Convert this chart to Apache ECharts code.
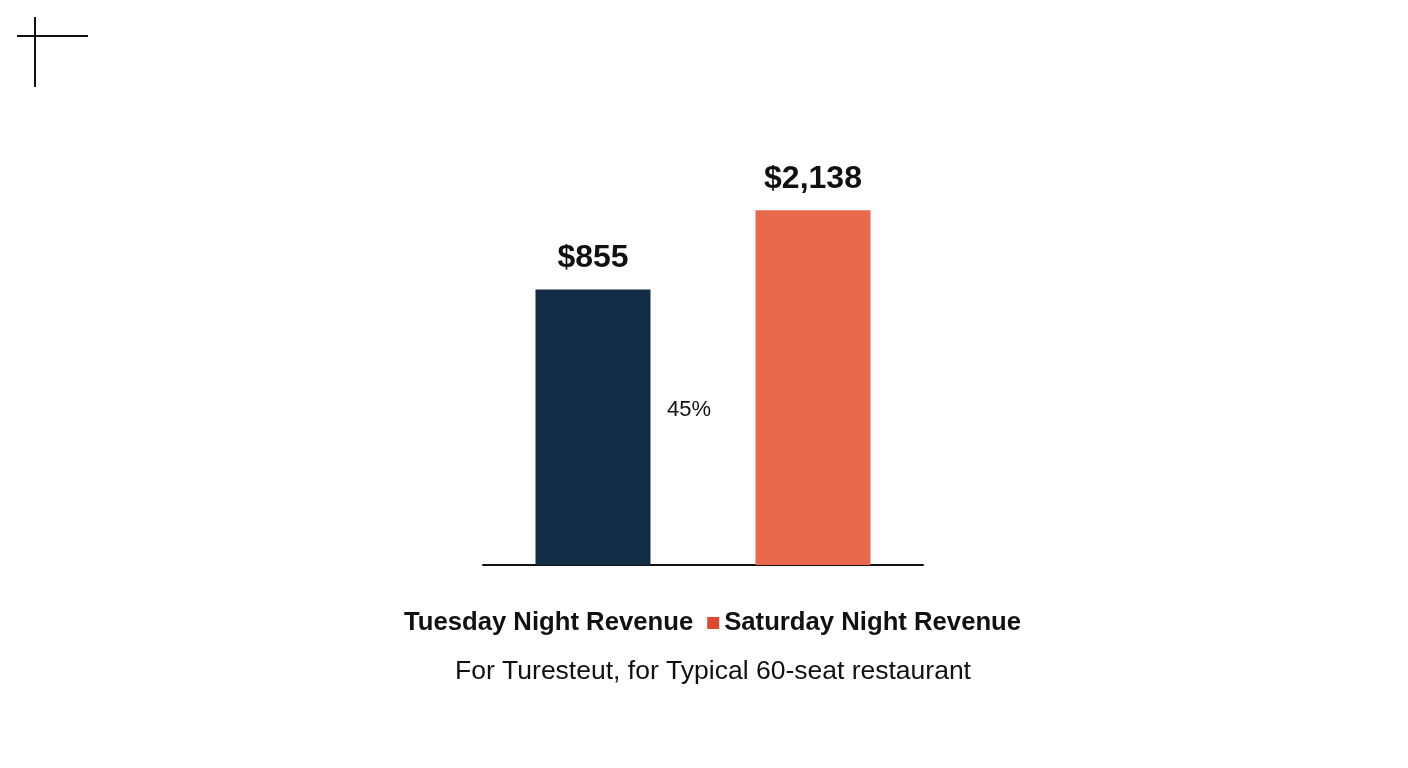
<!DOCTYPE html>
<html>
<head>
<meta charset="utf-8">
<script src="https://cdn.jsdelivr.net/npm/echarts@6/dist/echarts.min.js"></script>
<style>
  html, body { margin: 0; padding: 0; background: #ffffff; }
  #chart { width: 1408px; height: 768px; }
</style>
</head>
<body>
<div id="chart"></div>
<script>
// ---- data ----
const categories = ['Tuesday Night Revenue', 'Saturday Night Revenue'];
const values = [855, 2138];
const gapLabel = '45%';
const subtitle = 'For Turesteut, for Typical 60-seat restaurant';

// ---- styles ----
const barColors = ['#132d47', '#e8694b'];
const legendSquareColor = '#dc4a2d';
const textColor = '#111111';
const fontFamily = "'Liberation Sans', Arial, Helvetica, sans-serif";

const chart = echarts.init(document.getElementById('chart'), null, { renderer: 'canvas' });

const series = categories.map((name, i) => ({
  name: name,
  type: 'bar',
  barWidth: 115,
  barGap: '-100%',
  data: categories.map((c, j) => (j === i ? values[i] : null)),
  itemStyle: { color: barColors[i] },
  label: {
    show: true,
    position: 'top',
    distance: 15,
    formatter: p => '$' + Number(p.value).toLocaleString('en-US'),
    fontSize: 32,
    fontWeight: 'bold',
    color: textColor,
    fontFamily: fontFamily
  },
  emphasis: { disabled: true }
}));

const option = {
  backgroundColor: '#ffffff',
  animation: false,
  textStyle: { fontFamily: fontFamily },
  title: {
    text: subtitle,
    left: 455,
    top: 658,
    padding: 0,
    textStyle: { fontSize: 26.5, fontWeight: 'normal', color: textColor, fontFamily: fontFamily }
  },
  legend: {
    left: 'center',
    top: 610,
    padding: 0,
    itemWidth: 12,
    itemHeight: 12,
    itemGap: 14,
    selectedMode: false,
    textStyle: { fontSize: 25.7, fontWeight: 'bold', color: textColor, fontFamily: fontFamily },
    data: [
      { name: categories[0], icon: 'none' },
      { name: categories[1], icon: 'rect', itemStyle: { color: legendSquareColor } }
    ]
  },
  grid: { left: 483, right: 485, top: 95, bottom: 203, containLabel: false },
  xAxis: {
    type: 'category',
    data: categories,
    axisLine: { show: true, onZero: false, lineStyle: { color: textColor, width: 2 } },
    axisTick: { show: false },
    axisLabel: { show: false },
    splitLine: { show: false }
  },
  yAxis: {
    type: 'value',
    show: false,
    min: -3600,
    max: 4000,
    startValue: -3600,
    splitLine: { show: false }
  },
  graphic: [
    { type: 'line', shape: { x1: 17, y1: 36, x2: 88, y2: 36 }, style: { stroke: '#111', lineWidth: 2 } },
    { type: 'line', shape: { x1: 35, y1: 17, x2: 35, y2: 87 }, style: { stroke: '#111', lineWidth: 2 } },
    {
      type: 'text', x: 689, y: 410,
      style: { text: gapLabel, fontSize: 22, fill: textColor, fontFamily: fontFamily, align: 'center', verticalAlign: 'middle' }
    }
  ],
  series: series
};

chart.setOption(option);
</script>
</body>
</html>
